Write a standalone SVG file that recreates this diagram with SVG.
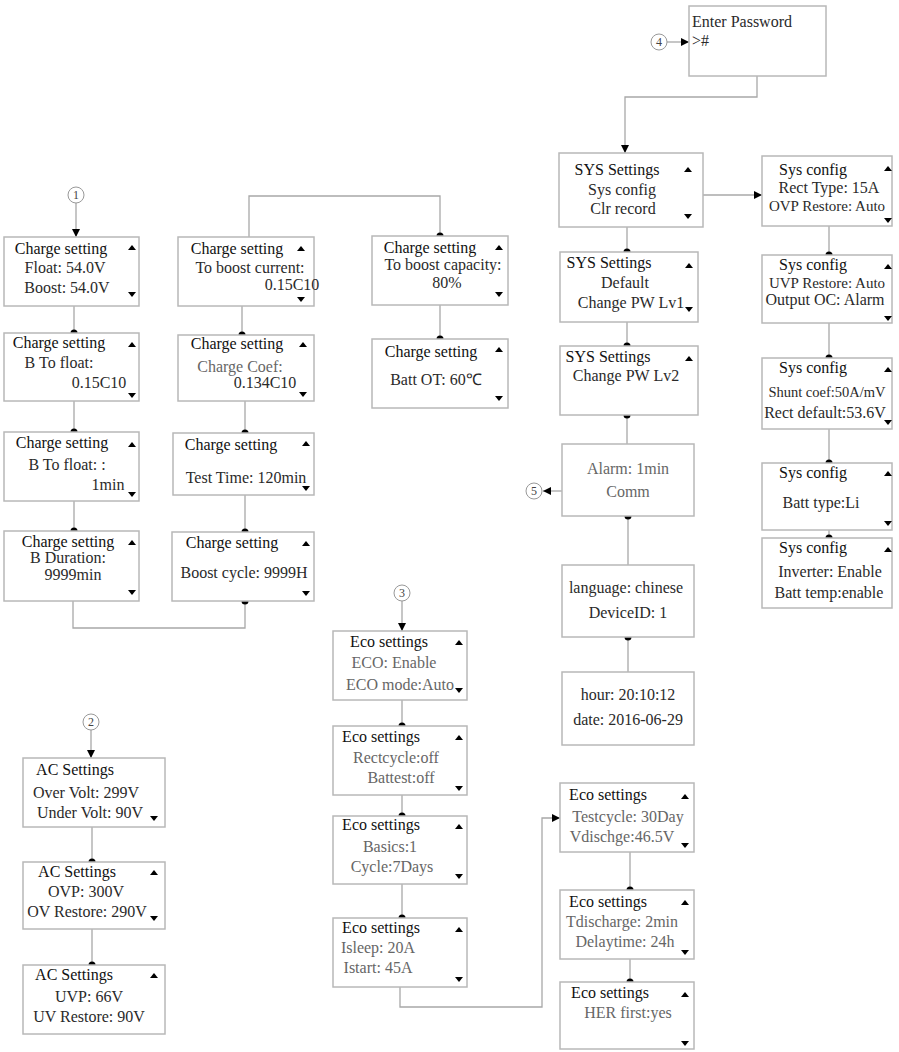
<svg xmlns="http://www.w3.org/2000/svg" width="899" height="1052" viewBox="0 0 899 1052">
<style>
.box{fill:#fff;stroke:#b8b8b8;stroke-width:1.5}
.ln{fill:none;stroke:#a8a8a8;stroke-width:1.3}
.t{font-family:"Liberation Serif",serif;font-size:16px;fill:#2a2a2a;text-anchor:middle}
.sm{font-size:15px}
.xs{font-size:14.5px}
.h{fill:#111}
.g{fill:#666}
.s{text-anchor:start}
.cir{fill:#fff;stroke:#999;stroke-width:1}
.cn{font-family:"Liberation Serif",serif;font-size:12px;fill:#444;text-anchor:middle}
.dot{fill:#000}
</style>
<defs>
<path id="up" d="M-4,2 L4,2 L0,-3Z" fill="#000"/>
<path id="dn" d="M-4,-2 L4,-2 L0,3Z" fill="#000"/>
<marker id="arr" viewBox="0 0 10 10" refX="10" refY="5" markerWidth="8" markerHeight="8" markerUnits="userSpaceOnUse" orient="auto"><path d="M0,0 L10,5 L0,10Z" fill="#000"/></marker>
</defs>

<g id="connectors">
<line class="ln" x1="667" y1="42" x2="689" y2="42" marker-end="url(#arr)"/>
<polyline class="ln" points="757,76 757,97 625,97 625,153" marker-end="url(#arr)"/>
<line class="ln" x1="703" y1="195" x2="762" y2="195" marker-end="url(#arr)"/>
<line class="ln" x1="627" y1="227" x2="627" y2="252"/>
<line class="ln" x1="627" y1="322" x2="627" y2="346"/>
<line class="ln" x1="627" y1="415" x2="627" y2="444"/>
<line class="ln" x1="562" y1="491" x2="543" y2="491" marker-end="url(#arr)"/>
<line class="ln" x1="628" y1="516" x2="628" y2="565"/>
<line class="ln" x1="628" y1="637" x2="628" y2="672"/>
<line class="ln" x1="829" y1="226" x2="829" y2="255"/>
<line class="ln" x1="829" y1="323" x2="829" y2="358"/>
<line class="ln" x1="829" y1="429" x2="829" y2="463"/>
<line class="ln" x1="829" y1="530" x2="829" y2="538"/>
<line class="ln" x1="76" y1="203" x2="76" y2="237" marker-end="url(#arr)"/>
<line class="ln" x1="74" y1="306" x2="74" y2="333"/>
<line class="ln" x1="74" y1="401" x2="74" y2="432"/>
<line class="ln" x1="74" y1="501" x2="74" y2="531"/>
<polyline class="ln" points="73,601 73,628 245,628 245,601"/>
<polyline class="ln" points="249,237 249,196 440,196 440,236"/>
<line class="ln" x1="242" y1="306" x2="242" y2="335"/>
<line class="ln" x1="245" y1="401" x2="245" y2="433"/>
<line class="ln" x1="245" y1="495" x2="245" y2="532"/>
<line class="ln" x1="440" y1="305" x2="440" y2="339"/>
<line class="ln" x1="402" y1="601" x2="402" y2="631" marker-end="url(#arr)"/>
<line class="ln" x1="402" y1="700" x2="402" y2="726"/>
<line class="ln" x1="402" y1="795" x2="402" y2="816"/>
<line class="ln" x1="402" y1="884" x2="402" y2="918"/>
<polyline class="ln" points="400,987 400,1007 542,1007 542,818 560,818" marker-end="url(#arr)"/>
<line class="ln" x1="630" y1="852" x2="630" y2="890"/>
<line class="ln" x1="630" y1="959" x2="630" y2="982"/>
<line class="ln" x1="91" y1="730" x2="91" y2="758" marker-end="url(#arr)"/>
<line class="ln" x1="92" y1="827" x2="92" y2="862"/>
<line class="ln" x1="92" y1="929" x2="92" y2="965"/>
<g class="dot">
<circle cx="627" cy="252" r="3.5"/><circle cx="627" cy="346" r="3.5"/><circle cx="627" cy="415" r="3.5"/>
<circle cx="628" cy="516" r="3.5"/><circle cx="628" cy="637" r="3.5"/>
<circle cx="829" cy="255" r="3.5"/><circle cx="829" cy="358" r="3.5"/><circle cx="829" cy="463" r="3.5"/><circle cx="829" cy="538" r="3.5"/>
<circle cx="74" cy="333" r="3.5"/><circle cx="74" cy="432" r="3.5"/><circle cx="74" cy="531" r="3.5"/>
<circle cx="245" cy="601" r="3.5"/><circle cx="440" cy="236" r="3.5"/><circle cx="242" cy="335" r="3.5"/>
<circle cx="245" cy="433" r="3.5"/><circle cx="245" cy="532" r="3.5"/><circle cx="440" cy="339" r="3.5"/>
<circle cx="402" cy="726" r="3.5"/><circle cx="402" cy="816" r="3.5"/><circle cx="402" cy="918" r="3.5"/>
<circle cx="630" cy="890" r="3.5"/><circle cx="630" cy="982" r="3.5"/>
<circle cx="92" cy="862" r="3.5"/><circle cx="92" cy="965" r="3.5"/>
</g>
</g>

<g id="c4"><circle class="cir" cx="659" cy="42" r="8"/><text class="cn" x="659" y="46">4</text></g>
<g id="c5"><circle class="cir" cx="534" cy="491" r="8"/><text class="cn" x="534" y="495">5</text></g>
<g id="c1"><circle class="cir" cx="76" cy="195" r="8"/><text class="cn" x="76" y="199">1</text></g>
<g id="c3"><circle class="cir" cx="402" cy="593" r="8"/><text class="cn" x="402" y="597">3</text></g>
<g id="c2"><circle class="cir" cx="91" cy="722" r="8"/><text class="cn" x="91" y="726">2</text></g>

<g id="password"><rect class="box" x="689" y="6" width="137" height="70"/>
<text class="t s" x="692" y="27">Enter Password</text><text class="t s" x="692" y="46">&gt;#</text></g>

<g id="sys1"><rect class="box" x="559" y="153" width="144" height="74"/>
<text class="t h" x="617" y="175">SYS Settings</text><text class="t" x="622" y="195">Sys config</text><text class="t" x="623" y="214">Clr record</text>
<use href="#up" x="688" y="170"/><use href="#dn" x="688" y="216"/></g>
<g id="sys2"><rect class="box" x="560" y="252" width="138" height="70"/>
<text class="t h" x="609" y="268">SYS Settings</text><text class="t" x="625" y="288">Default</text><text class="t" x="631" y="308">Change PW Lv1</text>
<use href="#up" x="689" y="266"/><use href="#dn" x="689" y="309"/></g>
<g id="sys3"><rect class="box" x="560" y="346" width="138" height="69"/>
<text class="t h" x="608" y="362">SYS Settings</text><text class="t" x="626" y="381">Change PW Lv2</text>
<use href="#up" x="689" y="359"/></g>
<g id="alarm"><rect class="box" x="562" y="444" width="132" height="72"/>
<text class="t g" x="628" y="474">Alarm: 1min</text><text class="t g" x="628" y="497">Comm</text></g>
<g id="language"><rect class="box" x="562" y="565" width="132" height="72"/>
<text class="t" x="626" y="593">language: chinese</text><text class="t" x="628" y="618">DeviceID: 1</text></g>
<g id="hour"><rect class="box" x="562" y="672" width="132" height="73"/>
<text class="t" x="628" y="700">hour: 20:10:12</text><text class="t" x="628" y="725">date: 2016-06-29</text></g>

<g id="cfg1"><rect class="box" x="762" y="156" width="130" height="70"/>
<text class="t h" x="813" y="175">Sys config</text><text class="t" x="829" y="193">Rect Type: 15A</text><text class="t sm" x="827" y="211">OVP Restore: Auto</text>
<use href="#up" x="888" y="169"/><use href="#dn" x="888" y="220"/></g>
<g id="cfg2"><rect class="box" x="762" y="255" width="130" height="68"/>
<text class="t h" x="813" y="270">Sys config</text><text class="t sm" x="827" y="288">UVP Restore: Auto</text><text class="t" x="825" y="305">Output OC: Alarm</text>
<use href="#up" x="888" y="267"/><use href="#dn" x="888" y="318"/></g>
<g id="cfg3"><rect class="box" x="762" y="358" width="130" height="71"/>
<text class="t h" x="813" y="373">Sys config</text><text class="t xs" x="827" y="397">Shunt coef:50A/mV</text><text class="t" x="825" y="418">Rect default:53.6V</text>
<use href="#up" x="888" y="370"/><use href="#dn" x="888" y="422"/></g>
<g id="cfg4"><rect class="box" x="762" y="463" width="130" height="67"/>
<text class="t h" x="813" y="478">Sys config</text><text class="t" x="821" y="508">Batt type:Li</text>
<use href="#up" x="888" y="474"/><use href="#dn" x="888" y="523"/></g>
<g id="cfg5"><rect class="box" x="762" y="538" width="130" height="70"/>
<text class="t h" x="813" y="553">Sys config</text><text class="t" x="830" y="577">Inverter: Enable</text><text class="t" x="829" y="598">Batt temp:enable</text>
<use href="#up" x="888" y="550"/></g>

<g id="cs1"><rect class="box" x="4" y="237" width="135" height="69"/>
<text class="t h" x="61" y="254">Charge setting</text><text class="t" x="65" y="273">Float: 54.0V</text><text class="t" x="67" y="293">Boost: 54.0V</text>
<use href="#up" x="132" y="248"/><use href="#dn" x="132" y="294"/></g>
<g id="cs2"><rect class="box" x="4" y="333" width="135" height="68"/>
<text class="t h" x="59" y="348">Charge setting</text><text class="t" x="59" y="368">B To float:</text><text class="t" x="99" y="388">0.15C10</text>
<use href="#up" x="132" y="345"/><use href="#dn" x="132" y="395"/></g>
<g id="cs3"><rect class="box" x="4" y="432" width="135" height="69"/>
<text class="t h" x="62" y="448">Charge setting</text><text class="t" x="67" y="470">B To float: :</text><text class="t" x="108" y="490">1min</text>
<use href="#up" x="132" y="445"/><use href="#dn" x="132" y="494"/></g>
<g id="cs4"><rect class="box" x="4" y="531" width="135" height="70"/>
<text class="t h" x="68" y="547">Charge setting</text><text class="t" x="68" y="563">B Duration:</text><text class="t" x="73" y="580">9999min</text>
<use href="#up" x="132" y="543"/><use href="#dn" x="132" y="592"/></g>

<g id="cs5"><rect class="box" x="178" y="237" width="136" height="69"/>
<text class="t h" x="237" y="254">Charge setting</text><text class="t" x="250" y="273">To boost current:</text><text class="t" x="292" y="290">0.15C10</text>
<use href="#up" x="301" y="249"/><use href="#dn" x="301" y="299"/></g>
<g id="cs6"><rect class="box" x="178" y="335" width="136" height="66"/>
<text class="t h" x="237" y="349">Charge setting</text><text class="t g" x="240" y="372">Charge Coef:</text><text class="t" x="265" y="388">0.134C10</text>
<use href="#up" x="303" y="345"/><use href="#dn" x="303" y="394"/></g>
<g id="cs7"><rect class="box" x="173" y="433" width="141" height="62"/>
<text class="t h" x="231" y="450">Charge setting</text><text class="t" x="246" y="483">Test Time: 120min</text>
<use href="#up" x="306" y="444"/><use href="#dn" x="306" y="488"/></g>
<g id="cs8"><rect class="box" x="172" y="532" width="142" height="69"/>
<text class="t h" x="232" y="548">Charge setting</text><text class="t" x="244" y="578">Boost cycle: 9999H</text>
<use href="#up" x="306" y="544"/><use href="#dn" x="306" y="593"/></g>
<g id="cs9"><rect class="box" x="372" y="236" width="136" height="69"/>
<text class="t h" x="430" y="253">Charge setting</text><text class="t" x="443" y="270">To boost capacity:</text><text class="t" x="447" y="288">80%</text>
<use href="#up" x="499" y="248"/><use href="#dn" x="499" y="294"/></g>
<g id="cs10"><rect class="box" x="372" y="339" width="136" height="69"/>
<text class="t h" x="431" y="357">Charge setting</text><text class="t" x="436" y="385">Batt OT: 60℃</text>
<use href="#up" x="499" y="350"/><use href="#dn" x="499" y="398"/></g>

<g id="eco1"><rect class="box" x="333" y="631" width="134" height="69"/>
<text class="t h" x="389" y="647">Eco settings</text><text class="t g" x="394" y="668">ECO: Enable</text><text class="t g" x="400" y="690">ECO mode:Auto</text>
<use href="#up" x="459" y="643"/><use href="#dn" x="459" y="690"/></g>
<g id="eco2"><rect class="box" x="333" y="726" width="134" height="69"/>
<text class="t h" x="381" y="742">Eco settings</text><text class="t g" x="396" y="763">Rectcycle:off</text><text class="t g" x="401" y="783">Battest:off</text>
<use href="#up" x="459" y="738"/><use href="#dn" x="459" y="788"/></g>
<g id="eco3"><rect class="box" x="333" y="816" width="134" height="68"/>
<text class="t h" x="381" y="830">Eco settings</text><text class="t g" x="390" y="852">Basics:1</text><text class="t g" x="392" y="872">Cycle:7Days</text>
<use href="#up" x="459" y="827"/><use href="#dn" x="459" y="876"/></g>
<g id="eco4"><rect class="box" x="333" y="918" width="134" height="69"/>
<text class="t h" x="381" y="933">Eco settings</text><text class="t g" x="378" y="953">Isleep: 20A</text><text class="t g" x="378" y="973">Istart: 45A</text>
<use href="#up" x="459" y="930"/><use href="#dn" x="459" y="979"/></g>

<g id="eco5"><rect class="box" x="560" y="783" width="134" height="69"/>
<text class="t h" x="608" y="800">Eco settings</text><text class="t g" x="628" y="822">Testcycle: 30Day</text><text class="t g" x="622" y="842">Vdischge:46.5V</text>
<use href="#up" x="685" y="797"/><use href="#dn" x="685" y="845"/></g>
<g id="eco6"><rect class="box" x="560" y="890" width="134" height="69"/>
<text class="t h" x="608" y="907">Eco settings</text><text class="t g" x="622" y="927">Tdischarge: 2min</text><text class="t g" x="625" y="947">Delaytime: 24h</text>
<use href="#up" x="685" y="903"/><use href="#dn" x="685" y="952"/></g>
<g id="eco7"><rect class="box" x="560" y="982" width="134" height="67"/>
<text class="t h" x="610" y="998">Eco settings</text><text class="t g" x="628" y="1018">HER first:yes</text>
<use href="#up" x="685" y="995"/><use href="#dn" x="685" y="1043"/></g>

<g id="ac1"><rect class="box" x="23" y="758" width="142" height="69"/>
<text class="t h" x="75" y="775">AC Settings</text><text class="t" x="86" y="798">Over Volt: 299V</text><text class="t" x="90" y="818">Under Volt: 90V</text>
<use href="#dn" x="154" y="818"/></g>
<g id="ac2"><rect class="box" x="23" y="862" width="142" height="67"/>
<text class="t h" x="77" y="877">AC Settings</text><text class="t" x="86" y="897">OVP: 300V</text><text class="t" x="87" y="917">OV Restore: 290V</text>
<use href="#up" x="154" y="873"/><use href="#dn" x="154" y="918"/></g>
<g id="ac3"><rect class="box" x="23" y="965" width="142" height="69"/>
<text class="t h" x="74" y="980">AC Settings</text><text class="t" x="89" y="1002">UVP: 66V</text><text class="t" x="89" y="1022">UV Restore: 90V</text>
<use href="#up" x="154" y="976"/></g>
</svg>
